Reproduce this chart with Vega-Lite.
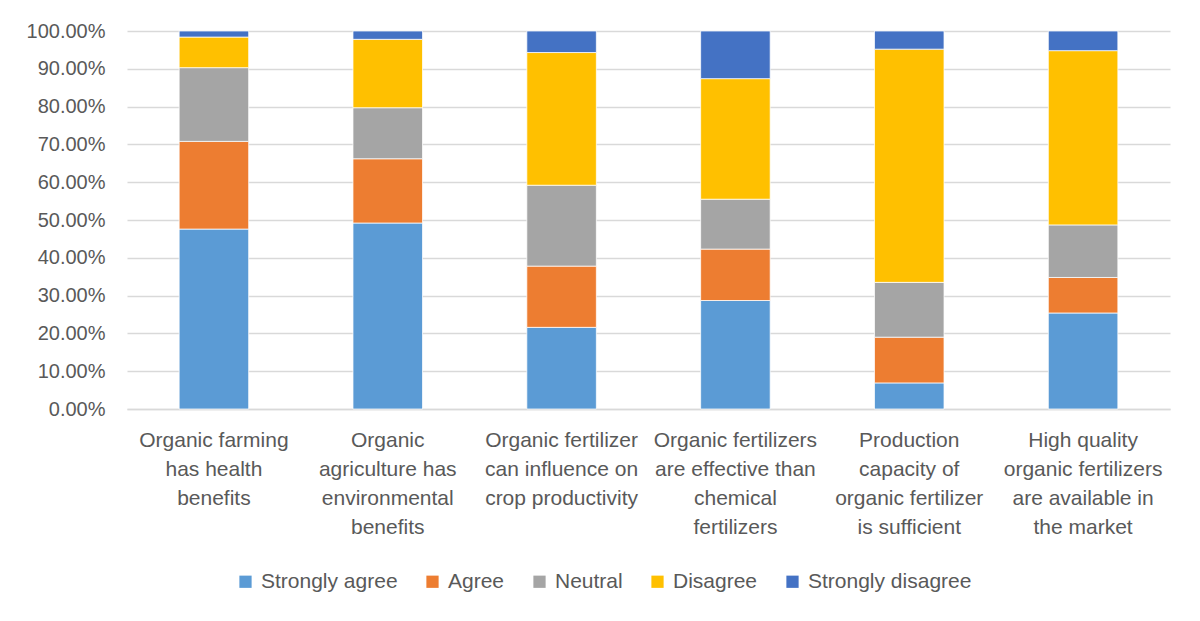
{
  "$schema": "https://vega.github.io/schema/vega-lite/v6.json",
  "autosize": {"type": "none"},
  "width": 1043,
  "height": 378,
  "padding": {"left": 127, "top": 31, "right": 30, "bottom": 212},
  "background": "white",
  "data": {
    "values": [
      {"statement": "Organic farming|has health|benefits", "response": "Strongly agree", "level": 1, "share": 0.476},
      {"statement": "Organic farming|has health|benefits", "response": "Agree", "level": 2, "share": 0.232},
      {"statement": "Organic farming|has health|benefits", "response": "Neutral", "level": 3, "share": 0.195},
      {"statement": "Organic farming|has health|benefits", "response": "Disagree", "level": 4, "share": 0.081},
      {"statement": "Organic farming|has health|benefits", "response": "Strongly disagree", "level": 5, "share": 0.016},
      {"statement": "Organic|agriculture has|environmental|benefits", "response": "Strongly agree", "level": 1, "share": 0.492},
      {"statement": "Organic|agriculture has|environmental|benefits", "response": "Agree", "level": 2, "share": 0.170},
      {"statement": "Organic|agriculture has|environmental|benefits", "response": "Neutral", "level": 3, "share": 0.135},
      {"statement": "Organic|agriculture has|environmental|benefits", "response": "Disagree", "level": 4, "share": 0.181},
      {"statement": "Organic|agriculture has|environmental|benefits", "response": "Strongly disagree", "level": 5, "share": 0.022},
      {"statement": "Organic fertilizer|can influence on|crop productivity", "response": "Strongly agree", "level": 1, "share": 0.216},
      {"statement": "Organic fertilizer|can influence on|crop productivity", "response": "Agree", "level": 2, "share": 0.162},
      {"statement": "Organic fertilizer|can influence on|crop productivity", "response": "Neutral", "level": 3, "share": 0.214},
      {"statement": "Organic fertilizer|can influence on|crop productivity", "response": "Disagree", "level": 4, "share": 0.351},
      {"statement": "Organic fertilizer|can influence on|crop productivity", "response": "Strongly disagree", "level": 5, "share": 0.057},
      {"statement": "Organic fertilizers|are effective than|chemical|fertilizers", "response": "Strongly agree", "level": 1, "share": 0.287},
      {"statement": "Organic fertilizers|are effective than|chemical|fertilizers", "response": "Agree", "level": 2, "share": 0.136},
      {"statement": "Organic fertilizers|are effective than|chemical|fertilizers", "response": "Neutral", "level": 3, "share": 0.132},
      {"statement": "Organic fertilizers|are effective than|chemical|fertilizers", "response": "Disagree", "level": 4, "share": 0.319},
      {"statement": "Organic fertilizers|are effective than|chemical|fertilizers", "response": "Strongly disagree", "level": 5, "share": 0.126},
      {"statement": "Production|capacity of|organic fertilizer|is sufficient", "response": "Strongly agree", "level": 1, "share": 0.069},
      {"statement": "Production|capacity of|organic fertilizer|is sufficient", "response": "Agree", "level": 2, "share": 0.121},
      {"statement": "Production|capacity of|organic fertilizer|is sufficient", "response": "Neutral", "level": 3, "share": 0.145},
      {"statement": "Production|capacity of|organic fertilizer|is sufficient", "response": "Disagree", "level": 4, "share": 0.617},
      {"statement": "Production|capacity of|organic fertilizer|is sufficient", "response": "Strongly disagree", "level": 5, "share": 0.048},
      {"statement": "High quality|organic fertilizers|are available in|the market", "response": "Strongly agree", "level": 1, "share": 0.254},
      {"statement": "High quality|organic fertilizers|are available in|the market", "response": "Agree", "level": 2, "share": 0.094},
      {"statement": "High quality|organic fertilizers|are available in|the market", "response": "Neutral", "level": 3, "share": 0.139},
      {"statement": "High quality|organic fertilizers|are available in|the market", "response": "Disagree", "level": 4, "share": 0.461},
      {"statement": "High quality|organic fertilizers|are available in|the market", "response": "Strongly disagree", "level": 5, "share": 0.052}
    ]
  },
  "mark": {"type": "bar", "stroke": "white", "strokeWidth": 0.75},
  "encoding": {
    "x": {
      "field": "statement",
      "type": "nominal",
      "sort": null,
      "scale": {"paddingInner": 0.6, "paddingOuter": 0.3},
      "axis": {
        "title": null,
        "labelAngle": 0,
        "labelExpr": "split(datum.label, '|')",
        "labelFont": "Liberation Sans",
        "labelFontSize": 21,
        "labelColor": "#595959",
        "labelLineHeight": 29,
        "labelPadding": 20,
        "labelLimit": 220,
        "labelOverlap": false,
        "ticks": false,
        "domainColor": "#D9D9D9",
        "domainWidth": 1.5
      }
    },
    "y": {
      "field": "share",
      "type": "quantitative",
      "stack": "zero",
      "scale": {"domain": [0, 1], "nice": false},
      "axis": {
        "title": null,
        "format": ".2%",
        "values": [0, 0.1, 0.2, 0.3, 0.4, 0.5, 0.6, 0.7, 0.8, 0.9, 1.0],
        "labelOverlap": false,
        "labelFont": "Liberation Sans",
        "labelFontSize": 20,
        "labelColor": "#595959",
        "labelPadding": 22,
        "ticks": false,
        "domain": false,
        "grid": true,
        "gridColor": "#D9D9D9",
        "gridWidth": 1.5
      }
    },
    "color": {
      "field": "response",
      "type": "nominal",
      "sort": ["Strongly agree", "Agree", "Neutral", "Disagree", "Strongly disagree"],
      "scale": {
        "domain": ["Strongly agree", "Agree", "Neutral", "Disagree", "Strongly disagree"],
        "range": ["#5B9BD5", "#ED7D31", "#A5A5A5", "#FFC000", "#4472C4"]
      },
      "legend": {
        "title": null,
        "orient": "none",
        "direction": "horizontal",
        "legendX": 108,
        "legendY": 540,
        "symbolType": "square",
        "symbolSize": 150,
        "symbolStrokeWidth": 0,
        "labelFont": "Liberation Sans",
        "labelFontSize": 21,
        "labelColor": "#595959",
        "labelOffset": 5,
        "labelLimit": 300,
        "columnPadding": 24
      }
    },
    "order": {"field": "level", "type": "quantitative", "sort": "ascending"}
  },
  "config": {"view": {"stroke": null}}
}
